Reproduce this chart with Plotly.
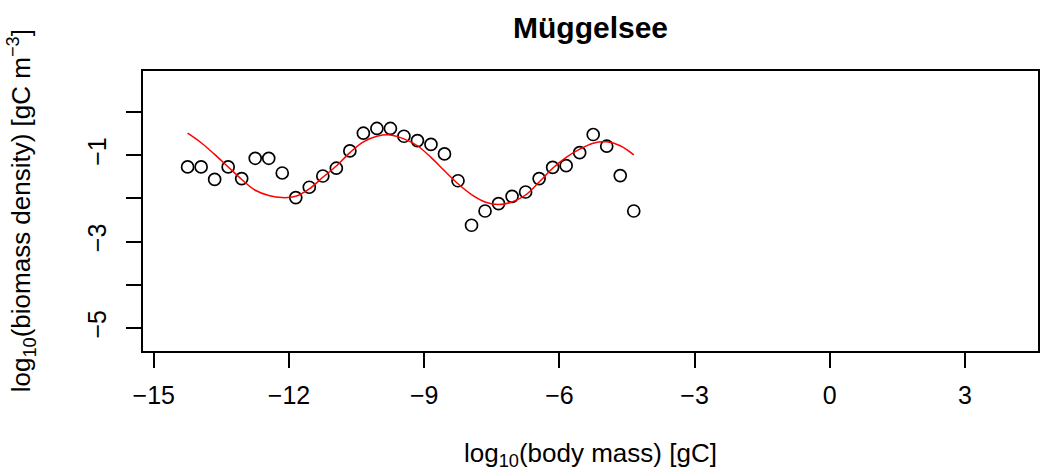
import plotly.graph_objects as go

# Size-spectrum observations: log10 body mass bins and log10 biomass density
body_mass = [-14.25 + 0.3 * i for i in range(34)]
biomass = [
    -1.27, -1.27, -1.56, -1.27, -1.54, -1.07, -1.07, -1.41, -1.98, -1.74,
    -1.48, -1.30, -0.90, -0.49, -0.38, -0.38, -0.56, -0.66, -0.75, -0.97,
    -1.59, -2.62, -2.29, -2.12, -1.95, -1.85, -1.54, -1.28, -1.24, -0.94,
    -0.52, -0.79, -1.47, -2.29,
]

# Fitted curve through the spectrum
fit_x = body_mass
fit_y = [
    -0.49, -0.71, -0.98, -1.27, -1.56, -1.81, -1.93, -1.98, -1.95, -1.78,
    -1.51, -1.25, -0.94, -0.69, -0.56, -0.53, -0.62, -0.78, -1.05, -1.36,
    -1.66, -1.91, -2.08, -2.14, -2.08, -1.92, -1.62, -1.30, -1.05, -0.86,
    -0.72, -0.69, -0.78, -0.99,
]

x_ticks = [-15, -12, -9, -6, -3, 0, 3]
x_tick_text = ["\u221215", "\u221212", "\u22129", "\u22126", "\u22123", "0", "3"]
y_ticks = [0, -1, -2, -3, -4, -5]
y_tick_text = ["", "\u22121", "", "\u22123", "", "\u22125"]

FONT = "Liberation Sans, Arial, Helvetica, sans-serif"

fig = go.Figure()
fig.add_trace(go.Scatter(
    x=body_mass, y=biomass, mode="markers",
    marker=dict(symbol="circle-open", size=12, color="black",
                line=dict(width=1.7, color="black")),
    showlegend=False,
))
fig.add_trace(go.Scatter(
    x=fit_x, y=fit_y, mode="lines", line_shape="spline",
    line=dict(color="#ff0000", width=1.5),
    showlegend=False,
))

axis_common = dict(
    showgrid=False, zeroline=False, showline=True, mirror=True,
    linecolor="black", linewidth=1.5, ticks="outside", ticklen=15,
    tickwidth=1.5, tickcolor="black",
    tickfont=dict(family=FONT, size=25, color="black"),
)

fig.update_xaxes(range=[-15.24, 4.62], tickvals=x_ticks, ticktext=x_tick_text,
                 ticklabelstandoff=6, **axis_common)
fig.update_yaxes(range=[-5.53, 0.95], tickvals=y_ticks, ticktext=y_tick_text,
                 tickangle=-90, ticklabelstandoff=10, **axis_common)

fig.update_layout(
    width=1042, height=476,
    margin=dict(l=143, r=2, t=71, b=125),
    plot_bgcolor="white", paper_bgcolor="white",
    annotations=[
        dict(text="<b>Müggelsee</b>", xref="paper", yref="paper",
             x=0.5, y=1.155, xanchor="center", yanchor="middle",
             showarrow=False, font=dict(family=FONT, size=30, color="black")),
        dict(text="log<sub>10</sub>(body mass) [gC]", xref="paper", yref="paper",
             x=0.5, y=-0.37, xanchor="center", yanchor="middle",
             showarrow=False, font=dict(family=FONT, size=26, color="black")),
        dict(text="log<sub>10</sub>(biomass density) [gC m<sup>\u22123</sup>]",
             xref="paper", yref="paper", x=-0.136, y=0.5,
             xanchor="center", yanchor="middle", textangle=-90,
             showarrow=False, font=dict(family=FONT, size=26, color="black")),
    ],
)

fig.write_html("out.html")
